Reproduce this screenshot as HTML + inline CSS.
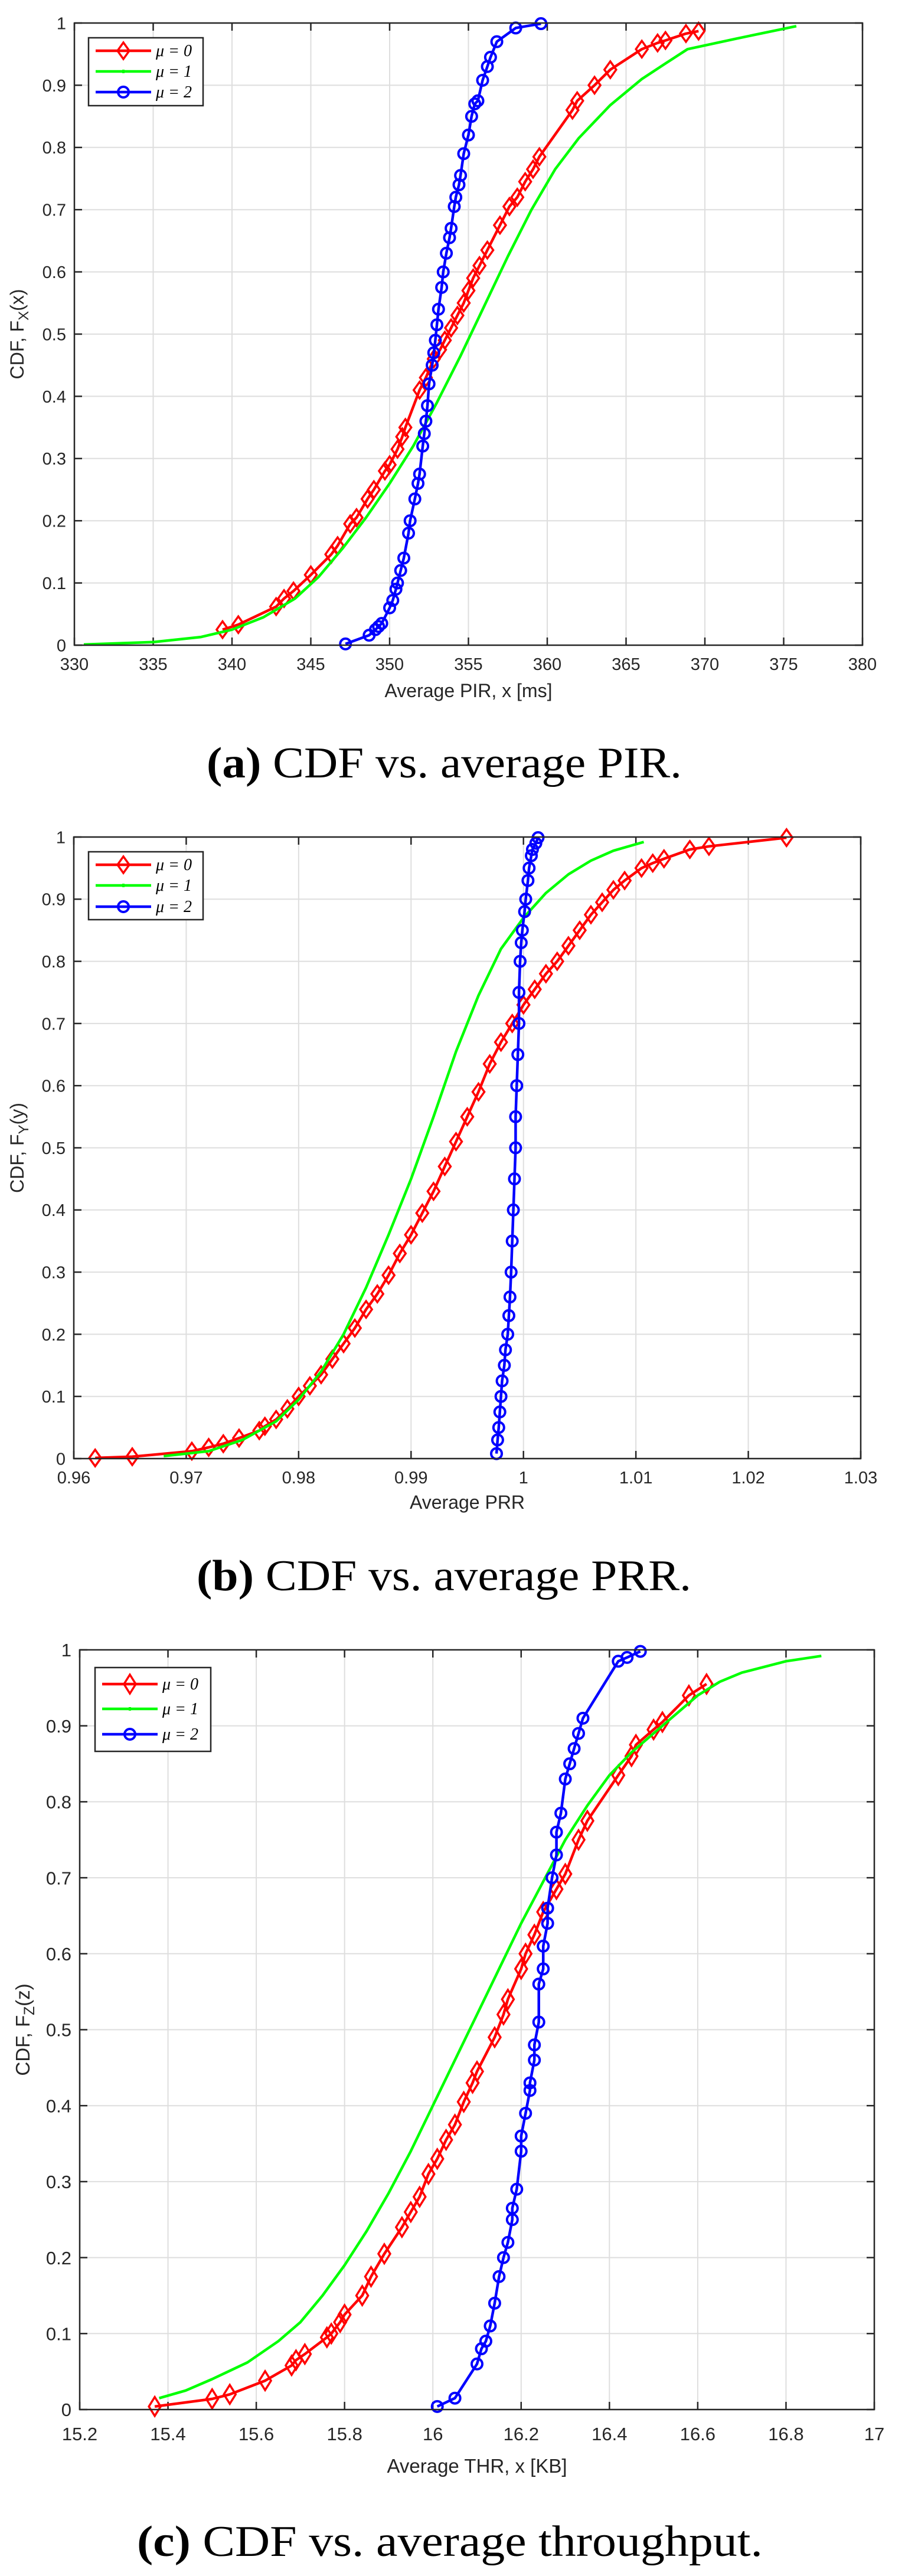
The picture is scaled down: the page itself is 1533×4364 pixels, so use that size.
<!DOCTYPE html>
<html><head><meta charset="utf-8"><style>
html,body{margin:0;padding:0;background:#fff;}
svg{display:block;}
text{font-family:"Liberation Sans",sans-serif;fill:#262626;}
.cap{font-family:"Liberation Serif",serif;fill:#000;}
.leg{font-family:"Liberation Serif",serif;font-style:italic;fill:#000;}
</style></head><body>
<svg id="fig" width="1533" height="4364" viewBox="0 0 1533 4364" xmlns="http://www.w3.org/2000/svg"></svg>
<script>
// ---- Chart (a): CDF vs average PIR ----
const aXTicks = [330,335,340,345,350,355,360,365,370,375,380];
const aYTicks = [0,0.1,0.2,0.3,0.4,0.5,0.6,0.7,0.8,0.9,1];
const aRedX = [339.4,340.4,342.8,343.3,343.9,345,346.3,346.7,347.5,347.9,348.6,349,349.7,350,350.5,350.8,351,351.9,352.3,352.8,353.2,353.5,353.9,354.3,354.7,355,355.3,355.7,356.2,357,357.6,358.1,358.6,359.1,359.5,361.6,361.9,363,364,366,367,367.5,368.8,369.6];
const aRedY = [0.025,0.033,0.062,0.075,0.087,0.113,0.146,0.16,0.195,0.205,0.235,0.25,0.28,0.29,0.315,0.335,0.35,0.41,0.43,0.46,0.475,0.49,0.51,0.53,0.55,0.57,0.59,0.61,0.635,0.675,0.705,0.72,0.745,0.765,0.785,0.86,0.875,0.9,0.925,0.958,0.968,0.972,0.983,0.987];
const aGreenX = [330.6,335,338,340,342,344,345.5,347,348.5,350,351.5,353,354.5,356,357.5,359,360.5,362,364,366,367.5,368.9,372,375.8];
const aGreenY = [0.001,0.005,0.013,0.025,0.045,0.075,0.11,0.155,0.205,0.26,0.32,0.39,0.465,0.545,0.625,0.7,0.765,0.815,0.868,0.91,0.935,0.958,0.975,0.995];
const aBlueX = [347.2,348.7,349.1,349.3,349.5,350,350.2,350.4,350.5,350.7,350.9,351.2,351.3,351.6,351.8,351.9,352.1,352.2,352.3,352.4,352.5,352.7,352.8,352.9,353,353.1,353.3,353.4,353.6,353.8,353.9,354.1,354.2,354.4,354.5,354.7,355,355.2,355.4,355.6,355.9,356.2,356.4,356.8,358,359.6];
const aBlueY = [0.002,0.016,0.025,0.03,0.035,0.06,0.072,0.09,0.1,0.12,0.14,0.18,0.2,0.235,0.26,0.275,0.32,0.34,0.36,0.385,0.42,0.45,0.47,0.49,0.515,0.54,0.575,0.6,0.63,0.655,0.67,0.705,0.72,0.74,0.755,0.79,0.82,0.85,0.87,0.875,0.908,0.93,0.945,0.97,0.992,0.999];

// ---- Chart (b): CDF vs average PRR ----
const bXTicks = [0.96,0.97,0.98,0.99,1,1.01,1.02,1.03];
const bXTickLabels = ["0.96","0.97","0.98","0.99","1","1.01","1.02","1.03"];
const bYTicks = [0,0.1,0.2,0.3,0.4,0.5,0.6,0.7,0.8,0.9,1];
const bRedX = [0.9619,0.9652,0.9705,0.972,0.9733,0.9747,0.9765,0.977,0.978,0.979,0.98,0.981,0.982,0.983,0.984,0.985,0.986,0.987,0.988,0.989,0.99,0.991,0.992,0.993,0.994,0.995,0.996,0.997,0.998,0.999,1.0,1.001,1.002,1.003,1.004,1.005,1.006,1.007,1.008,1.009,1.0105,1.0115,1.0125,1.0148,1.0165,1.0234];
const bRedY = [0.001,0.003,0.012,0.018,0.024,0.033,0.045,0.052,0.063,0.08,0.1,0.117,0.135,0.16,0.185,0.21,0.24,0.265,0.295,0.33,0.36,0.395,0.43,0.47,0.51,0.55,0.59,0.635,0.67,0.7,0.73,0.755,0.78,0.8,0.825,0.85,0.875,0.895,0.915,0.93,0.95,0.958,0.965,0.98,0.985,0.999];
const bGreenX = [0.968,0.972,0.975,0.978,0.98,0.982,0.984,0.986,0.988,0.99,0.992,0.994,0.996,0.998,1.0,1.002,1.004,1.006,1.008,1.0107];
const bGreenY = [0.004,0.012,0.03,0.06,0.095,0.14,0.2,0.275,0.36,0.45,0.55,0.655,0.745,0.82,0.87,0.91,0.94,0.962,0.978,0.992];
const bBlueX = [0.9976,0.9977,0.9978,0.9979,0.998,0.9981,0.9983,0.9984,0.9986,0.9987,0.9988,0.9989,0.999,0.9991,0.9992,0.9993,0.9993,0.9994,0.9995,0.9996,0.9996,0.9997,0.9998,0.9999,1.0001,1.0002,1.0004,1.0005,1.0007,1.0008,1.0011,1.0013];
const bBlueY = [0.008,0.03,0.05,0.075,0.1,0.125,0.15,0.175,0.2,0.23,0.26,0.3,0.35,0.4,0.45,0.5,0.55,0.6,0.65,0.7,0.75,0.8,0.83,0.85,0.88,0.9,0.93,0.95,0.97,0.98,0.99,0.999];

// ---- Chart (c): CDF vs average throughput ----
const cXTicks = [15.2,15.4,15.6,15.8,16,16.2,16.4,16.6,16.8,17];
const cXTickLabels = ["15.2","15.4","15.6","15.8","16","16.2","16.4","16.6","16.8","17"];
const cYTicks = [0,0.1,0.2,0.3,0.4,0.5,0.6,0.7,0.8,0.9,1];
const cRedX = [15.37,15.5,15.54,15.62,15.68,15.69,15.71,15.76,15.77,15.79,15.8,15.84,15.86,15.89,15.93,15.95,15.97,15.99,16.01,16.03,16.05,16.07,16.09,16.1,16.14,16.16,16.17,16.2,16.21,16.23,16.25,16.28,16.3,16.33,16.35,16.42,16.45,16.46,16.5,16.52,16.58,16.62];
const cRedY = [0.004,0.014,0.02,0.038,0.058,0.065,0.073,0.095,0.1,0.115,0.125,0.15,0.175,0.205,0.24,0.26,0.28,0.31,0.33,0.355,0.375,0.405,0.43,0.445,0.49,0.52,0.54,0.58,0.6,0.625,0.655,0.685,0.705,0.75,0.775,0.835,0.86,0.875,0.895,0.905,0.94,0.955];
const cGreenX = [15.38,15.44,15.5,15.58,15.65,15.7,15.75,15.8,15.85,15.9,15.95,16.0,16.05,16.1,16.15,16.2,16.25,16.3,16.35,16.4,16.45,16.5,16.55,16.6,16.65,16.7,16.8,16.88];
const cGreenY = [0.015,0.025,0.04,0.062,0.09,0.115,0.15,0.19,0.235,0.285,0.34,0.4,0.46,0.52,0.58,0.64,0.695,0.75,0.795,0.835,0.865,0.89,0.915,0.94,0.958,0.97,0.985,0.992];
const cBlueX = [16.01,16.05,16.1,16.11,16.12,16.13,16.14,16.15,16.16,16.17,16.18,16.18,16.19,16.2,16.2,16.21,16.22,16.22,16.23,16.23,16.24,16.24,16.25,16.25,16.26,16.26,16.27,16.28,16.28,16.29,16.3,16.31,16.32,16.33,16.34,16.42,16.44,16.47];
const cBlueY = [0.004,0.015,0.06,0.08,0.09,0.11,0.14,0.175,0.2,0.22,0.25,0.265,0.29,0.34,0.36,0.39,0.42,0.43,0.46,0.48,0.51,0.56,0.58,0.61,0.64,0.66,0.7,0.73,0.76,0.785,0.83,0.85,0.87,0.89,0.91,0.985,0.99,0.998];

const NS = "http://www.w3.org/2000/svg";
const svg = document.getElementById('fig');
function mk(tag, attrs, parent){
  const e = document.createElementNS(NS, tag);
  for (const k in attrs) e.setAttribute(k, attrs[k]);
  (parent||svg).appendChild(e);
  return e;
}
function diamond(g, cx, cy, w, h){
  return mk('path',{d:`M${cx},${cy-h} L${cx+w},${cy} L${cx},${cy+h} L${cx-w},${cy} Z`,fill:'none',stroke:'#ff0000','stroke-width':3.5},g);
}
function circle(g, cx, cy, r){
  return mk('circle',{cx:cx,cy:cy,r:r,fill:'none',stroke:'#0000ff','stroke-width':4},g);
}

function drawChart(cfg){
  const {L,R,T,B,xMin,xMax,xTicks,xLabels,yTicks,fs,lfs,tickBase,labelBase,xlabel,ysub,yvar,ylabelX,leg,series,caption,name,mh} = cfg;
  const sx = v => L + (v - xMin)/(xMax - xMin)*(R - L);
  const sy = v => B - v*(B - T);
  const g = mk('g',{});
  
  
  const grid = mk('g',{stroke:'#dedede','stroke-width':2},g);
  
  
  xTicks.forEach(v=>{ mk('line',{x1:sx(v),x2:sx(v),y1:T,y2:B},grid); });
  yTicks.forEach(v=>{ mk('line',{x1:L,x2:R,y1:sy(v),y2:sy(v)},grid); });
  const tk = mk('g',{stroke:'#262626','stroke-width':2.5},g);
  xTicks.forEach(v=>{ const x=sx(v);
    mk('line',{x1:x,x2:x,y1:B,y2:B-13},tk); mk('line',{x1:x,x2:x,y1:T,y2:T+13},tk); });
  yTicks.forEach(v=>{ const y=sy(v);
    mk('line',{x1:L,x2:L+13,y1:y,y2:y},tk); mk('line',{x1:R,x2:R-13,y1:y,y2:y},tk); });
  const xl = mk('g',{'font-size':fs,'text-anchor':'middle'},g);
  
  
  xTicks.forEach((v,i)=>{ const t=mk('text',{x:sx(v),y:tickBase},xl); t.textContent=xLabels[i]; });
  const yl = mk('g',{'font-size':fs,'text-anchor':'end'},g);
  
  
  yTicks.forEach(v=>{ const t=mk('text',{x:L-14,y:sy(v)+fs*0.36},yl); t.textContent=String(v); });
  const xt = mk('text',{x:(L+R)/2,y:labelBase,'font-size':lfs,'text-anchor':'middle'},g);
  xt.textContent = xlabel;
  
  
  const yt = mk('text',{x:0,y:0,'font-size':lfs,'text-anchor':'middle',transform:`translate(${ylabelX},${(T+B)/2}) rotate(-90)`},g);
  
  
  const s1 = mk('tspan',{},yt); s1.textContent='CDF, F';
  const s2 = mk('tspan',{dy:8,'font-size':lfs*0.75},yt); s2.textContent=ysub;
  const s3 = mk('tspan',{dy:-8},yt); s3.textContent='('+yvar+')';
  [series.red, series.green, series.blue].forEach(s=>{
    const sg = mk('g',{},g);
    
    
    const pts = s.x.map((v,i)=>sx(v).toFixed(1)+','+sy(s.y[i]).toFixed(1)).join(' ');
    mk('polyline',{points:pts,fill:'none',stroke:s.color,'stroke-width':4.5,'stroke-linejoin':'round'},sg);
    s.x.forEach((v,i)=>{
      if (s.marker==='d'){ const m=diamond(sg,sx(v),sy(s.y[i]),10,mh);
          }
      else if (s.marker==='o'){ const m=circle(sg,sx(v),sy(s.y[i]),9);
          }
    });
  });
  const box = mk('rect',{x:L,y:T,width:R-L,height:B-T,fill:'none',stroke:'#262626','stroke-width':2.5},g);
  
  
  const lg = mk('g',{},g);
  
  
  mk('rect',{x:leg.x,y:leg.y,width:leg.w,height:leg.h,fill:'#fff',stroke:'#262626','stroke-width':2.5},lg);
  [series.red,series.green,series.blue].forEach((s,i)=>{
    const y = leg.rows[i];
    const e = mk('g',{},lg);
    
    
    mk('line',{x1:leg.x+12,x2:leg.x+106,y1:y,y2:y,stroke:s.color,'stroke-width':4.5},e);
    const mx = leg.x+59;
    if (s.marker==='d') diamond(e,mx,y,10,mh);
    if (s.marker==='o') circle(e,mx,y,9);
    if (s.marker==='') mk('rect',{x:mx-2,y:y-3,width:4,height:6,fill:s.color},e);
    const t = mk('text',{x:leg.x+114,y:y+9,'font-size':28},e);
    t.setAttribute('class','leg');
    t.textContent = 'μ = '+i;
  });
  const ct = mk('text',{x:caption.x,y:caption.y,'font-size':74,textLength:caption.w,lengthAdjust:'spacingAndGlyphs'},svg);
  ct.setAttribute('class','cap');
  
  
  const b1 = mk('tspan',{'font-weight':'bold'},ct); b1.textContent = caption.tag+' ';
  const b2 = mk('tspan',{},ct); b2.textContent = caption.text;
}

drawChart({name:'chart-a-pir',L:126,R:1461,T:39,B:1093,xMin:330,xMax:380,xTicks:aXTicks,xLabels:aXTicks.map(String),yTicks:aYTicks,
  fs:29,lfs:32,tickBase:1135,labelBase:1181,xlabel:'Average PIR, x [ms]',ysub:'X',yvar:'x',ylabelX:40,mh:14,
  leg:{x:150,y:64,w:194,h:115,rows:[86,121,156]},
  series:{red:{x:aRedX,y:aRedY,color:'#ff0000',marker:'d',label:'mu0'},green:{x:aGreenX,y:aGreenY,color:'#00ff00',marker:'',label:'mu1'},blue:{x:aBlueX,y:aBlueY,color:'#0000ff',marker:'o',label:'mu2'}},
  caption:{x:350,y:1317,w:805,tag:'(a)',text:'CDF vs. average PIR.'}});

drawChart({name:'chart-b-prr',L:125,R:1458,T:1418,B:2471,xMin:0.96,xMax:1.03,xTicks:bXTicks,xLabels:bXTickLabels,yTicks:bYTicks,
  fs:29,lfs:32,tickBase:2513,labelBase:2556,xlabel:'Average PRR',ysub:'Y',yvar:'y',ylabelX:40,mh:14,
  leg:{x:150,y:1443,w:194,h:115,rows:[1465,1500,1536]},
  series:{red:{x:bRedX,y:bRedY,color:'#ff0000',marker:'d',label:'mu0'},green:{x:bGreenX,y:bGreenY,color:'#00ff00',marker:'',label:'mu1'},blue:{x:bBlueX,y:bBlueY,color:'#0000ff',marker:'o',label:'mu2'}},
  caption:{x:333,y:2694,w:838,tag:'(b)',text:'CDF vs. average PRR.'}});

drawChart({name:'chart-c-thr',L:135,R:1481,T:2795,B:4082,xMin:15.2,xMax:17,xTicks:cXTicks,xLabels:cXTickLabels,yTicks:cYTicks,
  fs:31,lfs:33,tickBase:4134,labelBase:4189,xlabel:'Average THR, x [KB]',ysub:'Z',yvar:'z',ylabelX:50,mh:16,
  leg:{x:161,y:2825,w:196,h:142,rows:[2853,2895,2938]},
  series:{red:{x:cRedX,y:cRedY,color:'#ff0000',marker:'d',label:'mu0'},green:{x:cGreenX,y:cGreenY,color:'#00ff00',marker:'',label:'mu1'},blue:{x:cBlueX,y:cBlueY,color:'#0000ff',marker:'o',label:'mu2'}},
  caption:{x:232,y:4330,w:1060,tag:'(c)',text:'CDF vs. average throughput.'}});
</script>
</body></html>
